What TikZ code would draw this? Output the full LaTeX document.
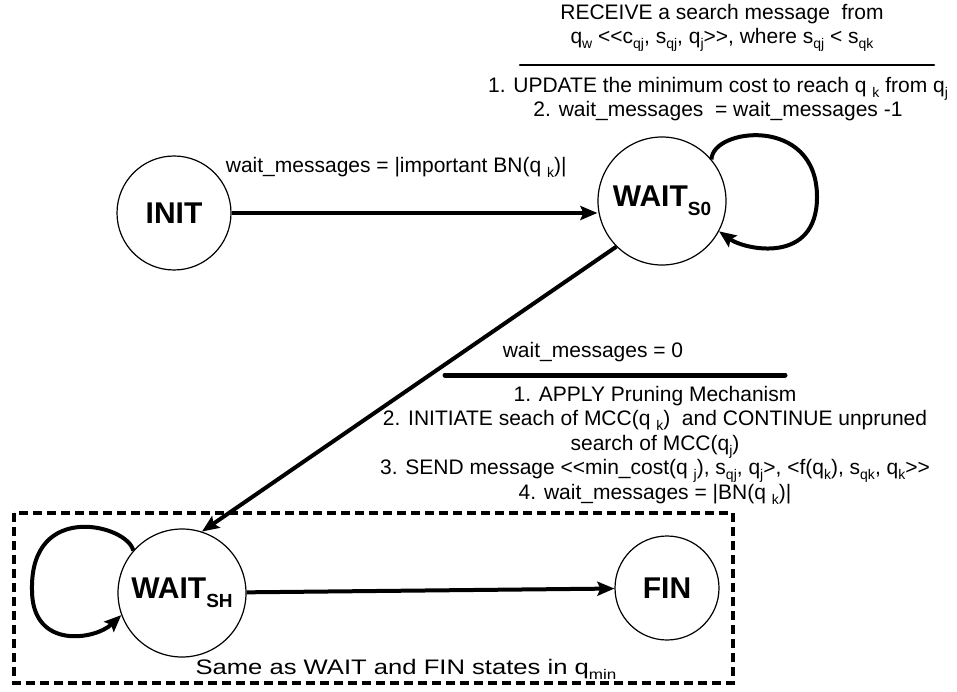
\documentclass[tikz,border=0pt]{standalone}
\usepackage{fontspec}
\setmainfont{Liberation Sans}
\usetikzlibrary{arrows.meta}
\newcommand{\lowidx}[1]{\raisebox{-5pt}{\fontsize{14}{14}\selectfont #1}}
\newcommand{\dlt}{<\kern0pt<}
\newcommand{\dgt}{>\kern0pt>}

\begin{document}
\begin{tikzpicture}[x=1pt,y=-1pt,font=\fontsize{21}{24.5}\selectfont]
    \tikzstyle{state}=[circle,draw,line width=1.2pt,inner sep=0pt,font=\fontsize{30}{30}\selectfont\bfseries]
    \tikzstyle{trans}=[line width=4pt,-{Stealth[length=17pt,width=14pt,inset=3pt]}]
    \tikzstyle{rule}=[line cap=round]
    \useasboundingbox (0,0) rectangle (957,692);
    % states
    \node[state,minimum size=114pt] (s_init) at (174,213) {INIT};
    \node[state,minimum size=128pt] (s_wait0) at (662,201) {WAIT\raisebox{-9pt}{\fontsize{19}{19}\selectfont S0}};
    \node[state,minimum size=128pt] (s_waitsh) at (182,593) {WAIT\raisebox{-9pt}{\fontsize{19}{19}\selectfont SH}};
    \node[state,minimum size=104pt] (s_fin) at (667,588) {FIN};
    % transitions
    \draw[trans] (s_init.east) -- node[pos=0.45,above=30pt] (l_init) {wait\_messages = |important BN(q \lowidx{k})|} (s_wait0.west |- s_init.east);
    \draw[trans] (s_wait0.40) .. controls (712,128) and (817,115) .. (817,197) .. controls (817,265) and (745,250) .. (s_wait0.-28);
    \draw[trans] (s_wait0.-135) -- (s_waitsh.72);
    \draw[trans] (s_waitsh.139) .. controls (128,525) and (30,500) .. (32,590) .. controls (32,650) and (95,640) .. (s_waitsh.-160);
    \draw[trans] (s_waitsh) -- (s_fin);
    % loop label
    \node (l_recv) at (722,28) [align=center] {RECEIVE a search message\ \ from\\
      q\lowidx{w} \dlt c\lowidx{qj}, s\lowidx{qj}, q\lowidx{j}\dgt, where s\lowidx{qj} < s\lowidx{qk}};
    \draw[rule,line width=2.5pt] (520,65) -- (934,65);
    \node (l_upd) at (718,99) [align=center] {1. UPDATE the minimum cost to reach q \lowidx{k} from q\lowidx{j}\\
      2. wait\_messages\ \ = wait\_messages -1};
    % pruning label
    \node (l_zero) at (593,352) {wait\_messages = 0};
    \draw[rule,line width=5pt] (445,375) -- (785,375);
    \node (l_prune) at (655,445) [align=center] {1. APPLY Pruning Mechanism\\
      2. INITIATE seach of MCC(q \lowidx{k})\ \ and CONTINUE unpruned\\
      search of MCC(q\lowidx{j})\\
      3. SEND message \dlt min\_cost(q \lowidx{j}), s\lowidx{qj}, q\lowidx{j}>, <f(q\lowidx{k}), s\lowidx{qk}, q\lowidx{k}\dgt\\
      4. wait\_messages = |BN(q \lowidx{k})|};
    % q_min box
    \draw[line width=3.5pt,dash pattern=on 9pt off 5pt] (14,513) rectangle (733,683);
    \node (l_same) at (406,669) {\scalebox{1.22}[1]{Same as WAIT and FIN states in q\lowidx{min}}};
\end{tikzpicture}
\end{document}
